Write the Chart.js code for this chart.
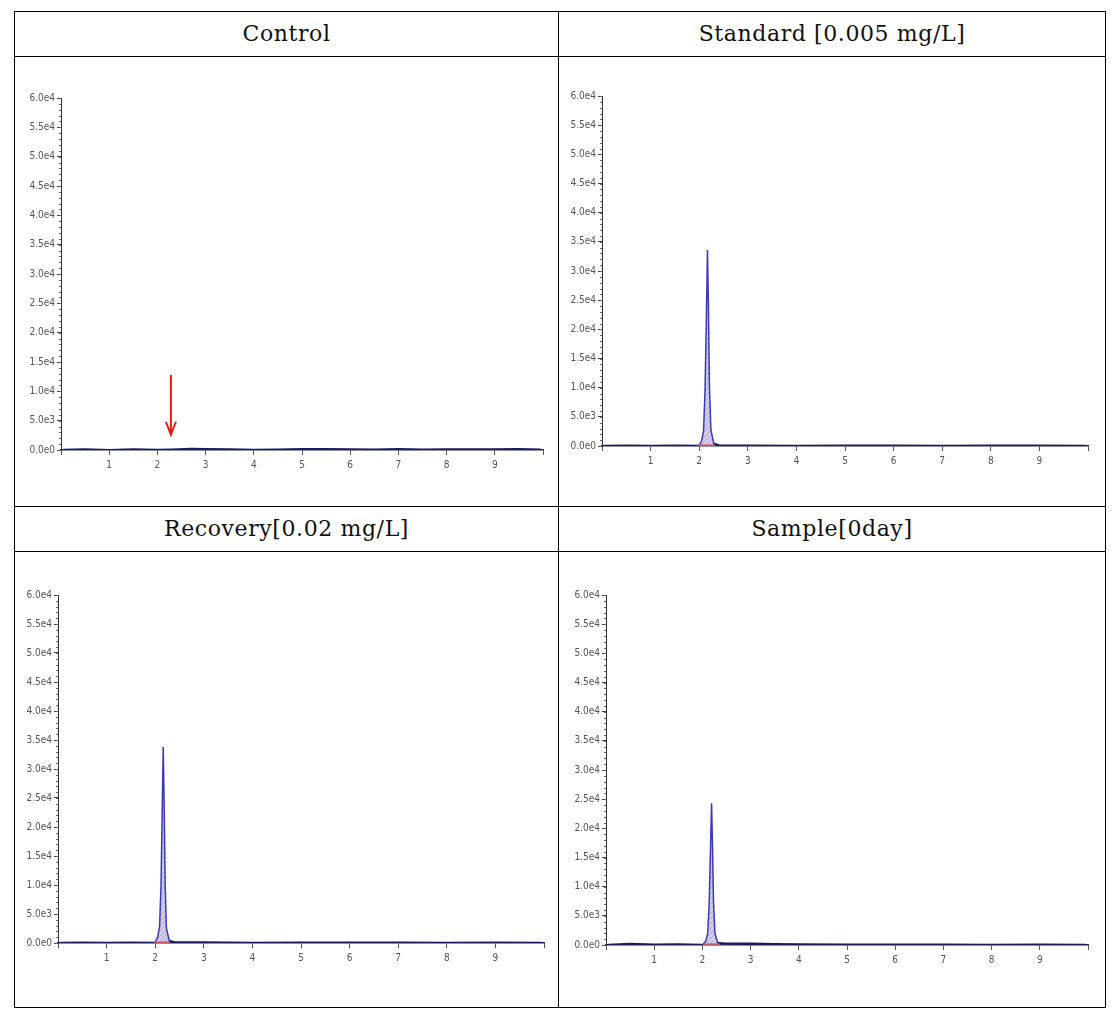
<!DOCTYPE html>
<html>
<head>
<meta charset="utf-8">
<script src="https://cdn.jsdelivr.net/npm/chart.js@4.4.1/dist/chart.umd.min.js"></script>
<style>
  html, body { margin: 0; padding: 0; background: #fff; }
  body { width: 1119px; height: 1021px; position: relative; overflow: hidden; }
  .ln { position: absolute; background: #000; }
  .hdr { position: absolute; text-align: center; font-family: "DejaVu Serif", "Liberation Serif", serif;
         font-size: 22px; color: #111; letter-spacing: 0.6px; }
  canvas { position: absolute; }
</style>
</head>
<body>
<!-- table grid -->
<div class="ln" style="left:14px;top:11px;width:1092px;height:1px"></div>
<div class="ln" style="left:14px;top:56px;width:1092px;height:1px"></div>
<div class="ln" style="left:14px;top:506px;width:1092px;height:1px"></div>
<div class="ln" style="left:14px;top:551px;width:1092px;height:1px"></div>
<div class="ln" style="left:14px;top:1007px;width:1092px;height:1px"></div>
<div class="ln" style="left:14px;top:11px;width:1px;height:997px"></div>
<div class="ln" style="left:558px;top:11px;width:1px;height:997px"></div>
<div class="ln" style="left:1105px;top:11px;width:1px;height:997px"></div>

<div class="hdr" id="h0" style="left:15px;top:21px;width:543px;"></div>
<div class="hdr" id="h1" style="left:559px;top:21px;width:546px;"></div>
<div class="hdr" id="h2" style="left:15px;top:516px;width:543px;"></div>
<div class="hdr" id="h3" style="left:559px;top:516px;width:546px;"></div>

<canvas id="c0"></canvas>
<canvas id="c1"></canvas>
<canvas id="c2"></canvas>
<canvas id="c3"></canvas>

<script>
// ---------- DATA ----------
const panelTitles = ["Control", "Standard [0.005 mg/L]", "Recovery[0.02 mg/L]", "Sample[0day]"];

const yTickLabels = ["0.0e0","5.0e3","1.0e4","1.5e4","2.0e4","2.5e4","3.0e4","3.5e4","4.0e4","4.5e4","5.0e4","5.5e4","6.0e4"];
const xTickLabels = ["", "1", "2", "3", "4", "5", "6", "7", "8", "9", ""];

// retention time (min) and intensity (counts)
const controlTime   = [0.05, 0.5, 1.0, 1.5, 2.0, 2.3, 2.7, 3.0, 3.5, 4.0, 4.5, 5.0, 5.5, 6.0, 6.5, 7.0, 7.5, 8.0, 8.5, 9.0, 9.5, 9.95];
const controlSignal = [0, 100, -50, 80, 0, 60, 150, 120, 90, 0, 60, 130, 110, 80, 40, 120, 50, 70, 90, 100, 120, 60];

const standardTime   = [0.05, 0.5, 1.0, 1.5, 1.99, 2.05, 2.09, 2.12, 2.15, 2.17, 2.19, 2.21, 2.24, 2.30, 2.40, 3.0, 4.0, 5.0, 6.0, 7.0, 8.0, 9.0, 9.95];
const standardSignal = [0, 50, 0, 60, 0, 900, 2600, 9500, 23000, 33600, 24000, 10500, 2800, 400, 100, 60, 0, 40, 30, 20, 50, 30, 0];

const recoveryTime   = [0.05, 0.5, 1.0, 1.5, 1.99, 2.05, 2.09, 2.12, 2.145, 2.165, 2.185, 2.205, 2.23, 2.29, 2.40, 3.0, 4.0, 5.0, 6.0, 7.0, 8.0, 9.0, 9.95];
const recoverySignal = [0, 40, 0, 50, 0, 1000, 2800, 10000, 23000, 33800, 23500, 10000, 2600, 350, 100, 80, 0, 40, 30, 40, 20, 30, 0];

const sampleTime   = [0.05, 0.5, 1.0, 1.5, 2.0, 2.07, 2.11, 2.14, 2.17, 2.19, 2.21, 2.23, 2.26, 2.32, 2.45, 3.0, 3.5, 4.0, 5.0, 6.0, 7.0, 8.0, 9.0, 9.95];
const sampleSignal = [0, 150, 60, 100, 0, 700, 2000, 7000, 17000, 24300, 17000, 7500, 2000, 300, 250, 200, 150, 100, 60, 40, 30, 20, 40, 0];

// integration baseline (start/end time) for each panel
const integStart = [null, 1.99, 1.99, 2.02];
const integEnd   = [null, 2.32, 2.30, 2.36];

// red arrow in Control panel (time, from intensity, to intensity)
const arrowTime = 2.28, arrowFrom = 12800, arrowTo = 2600;

// ---------- LAYOUT (pixel boxes for plot areas) ----------
const boxes = [
  { axisX: 61,  top: 98, bottom: 450, right: 543 },
  { axisX: 602, top: 96, bottom: 446, right: 1088 },
  { axisX: 58,  top: 595, bottom: 943, right: 544 },
  { axisX: 606, top: 595, bottom: 945, right: 1088 }
];
const series = [
  [controlTime, controlSignal],
  [standardTime, standardSignal],
  [recoveryTime, recoverySignal],
  [sampleTime, sampleSignal]
];

const YW = 45, XH = 30, PT = 12, PR = 4;
const tickFont = { family: "'Liberation Sans Narrow', 'DejaVu Sans Condensed', 'Liberation Sans', sans-serif", size: 10 };

function hatchPattern() {
  const c = document.createElement('canvas');
  c.width = 5; c.height = 5;
  const g = c.getContext('2d');
  g.fillStyle = 'rgba(170,165,225,0.55)';
  g.fillRect(0, 0, 5, 5);
  g.strokeStyle = 'rgba(170,80,110,0.45)';
  g.lineWidth = 0.8;
  g.beginPath(); g.moveTo(0, 5); g.lineTo(5, 0); g.stroke();
  return g.createPattern(c, 'repeat');
}

const minorTicks = {
  id: 'minorTicks',
  afterDraw(chart) {
    const ctx = chart.ctx, y = chart.scales.y, a = chart.chartArea;
    ctx.save();
    ctx.strokeStyle = '#666';
    ctx.lineWidth = 1;
    ctx.beginPath();
    for (let v = 0; v <= 60000; v += 1000) {
      const py = Math.round(y.getPixelForValue(v)) + 0.5;
      ctx.moveTo(a.left - 2, py); ctx.lineTo(a.left, py);
    }
    ctx.stroke();
    ctx.restore();
  }
};

const arrowPlugin = {
  id: 'arrowPlugin',
  afterDatasetsDraw(chart, args, opts) {
    if (!opts.show) return;
    const ctx = chart.ctx, xs = chart.scales.x, ys = chart.scales.y;
    const px = xs.getPixelForValue(arrowTime);
    const y0 = ys.getPixelForValue(arrowFrom), y1 = ys.getPixelForValue(arrowTo);
    ctx.save();
    ctx.strokeStyle = '#e41e14';
    ctx.lineWidth = 2;
    ctx.beginPath();
    ctx.moveTo(px, y0); ctx.lineTo(px, y1);
    ctx.moveTo(px - 5, y1 - 13); ctx.lineTo(px, y1); ctx.lineTo(px + 5, y1 - 13);
    ctx.stroke();
    ctx.restore();
  }
};

panelTitles.forEach((t, i) => { document.getElementById('h' + i).textContent = t; });

boxes.forEach((b, i) => {
  const cv = document.getElementById('c' + i);
  const w = (b.right - b.axisX) + YW + PR;
  const h = (b.bottom - b.top) + PT + XH;
  cv.width = w; cv.height = h;
  cv.style.width = w + 'px'; cv.style.height = h + 'px';
  cv.style.left = (b.axisX - YW) + 'px';
  cv.style.top = (b.top - PT) + 'px';

  const [tx, ty] = series[i];
  const pts = tx.map((v, k) => ({ x: v, y: ty[k] }));
  const datasets = [{
    data: pts,
    fill: 'origin',
    backgroundColor: hatchPattern(),
    pointRadius: 0,
    tension: 0,
    borderColor: '#1c1c5a',
    borderWidth: 2.5,
    segment: {
      borderColor: c => (c.p0.parsed.y > 500 || c.p1.parsed.y > 500) ? '#3a3ab8' : '#1c1c5a',
      borderWidth: c => (c.p0.parsed.y > 500 || c.p1.parsed.y > 500) ? 1.5 : 2.5
    },
    order: 2
  }];
  if (integStart[i] !== null) {
    datasets.push({
      data: [{ x: integStart[i], y: 150 }, { x: integEnd[i], y: 150 }],
      borderColor: '#d05a5a',
      borderWidth: 1.5,
      pointRadius: 0,
      fill: false,
      order: 1
    });
  }

  new Chart(cv, {
    type: 'line',
    data: { datasets },
    options: {
      responsive: false,
      animation: false,
      events: [],
      layout: { padding: { top: PT, right: PR, left: 0, bottom: 0 } },
      plugins: {
        legend: { display: false },
        tooltip: { enabled: false },
        arrowPlugin: { show: i === 0 }
      },
      scales: {
        x: {
          type: 'linear', min: 0, max: 10,
          afterFit: s => { s.height = XH; },
          border: { display: true, color: '#1c1c5a', width: 1.5 },
          grid: { display: true, drawOnChartArea: false, tickLength: 5, color: '#555' },
          ticks: {
            stepSize: 1, autoSkip: false, maxRotation: 0, padding: 4,
            color: '#555', font: tickFont,
            callback: (v) => xTickLabels[Math.round(v)] ?? ''
          }
        },
        y: {
          type: 'linear', min: 0, max: 60000,
          afterFit: s => { s.width = YW; },
          border: { display: true, color: '#333', width: 1 },
          grid: { display: true, drawOnChartArea: false, tickLength: 4, color: '#444' },
          ticks: {
            stepSize: 5000, autoSkip: false, padding: 2,
            color: '#555', font: tickFont,
            callback: (v) => yTickLabels[Math.round(v / 5000)] ?? ''
          }
        }
      }
    },
    plugins: [minorTicks, arrowPlugin]
  });
});
</script>
</body>
</html>
